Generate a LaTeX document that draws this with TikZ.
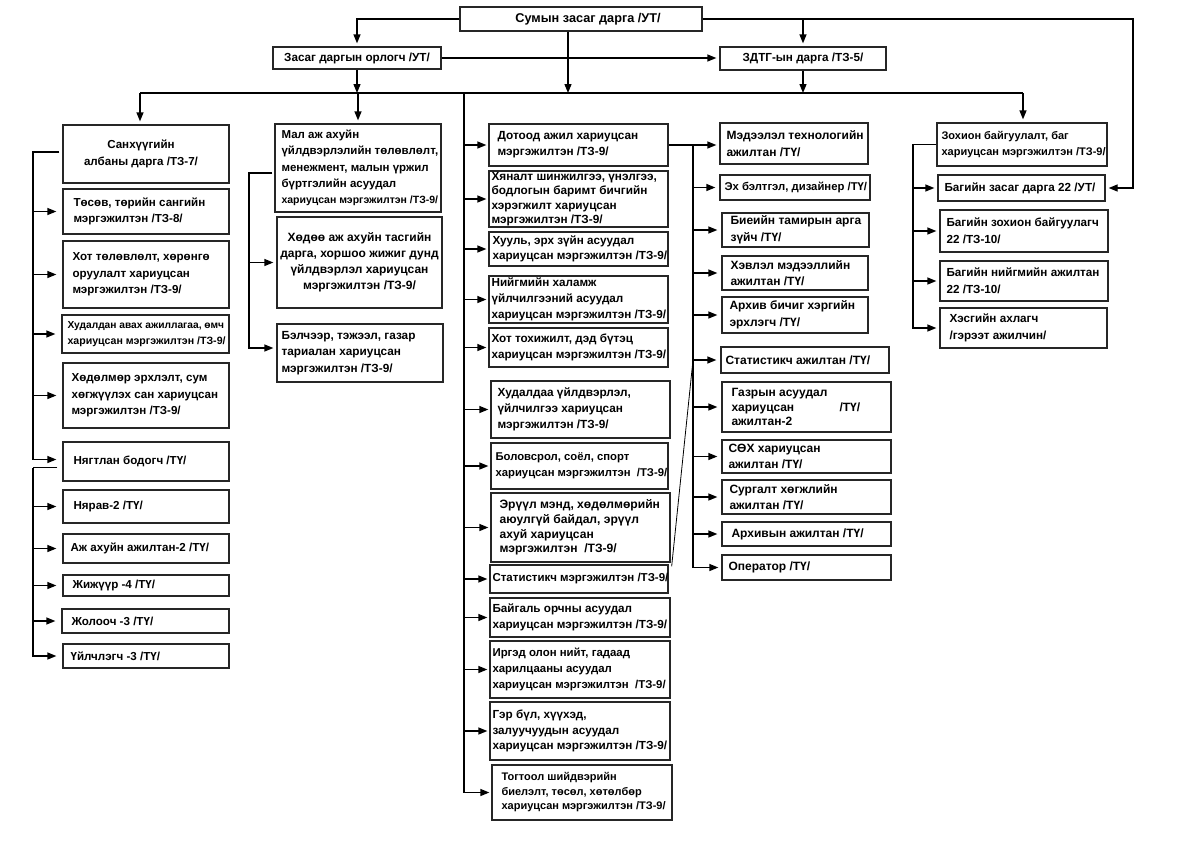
\documentclass[tikz,border=0pt]{standalone}
\usepackage{fontspec}
\setmainfont{Liberation Sans}
\usetikzlibrary{arrows.meta}
\newcommand\fs[2]{\bfseries\fontsize{#1}{#2}\selectfont}
% left-aligned box: name x1 y1 x2 y2 xs opts text
\newcommand\bx[8]{%
  \pgfmathsetmacro\bxw{#4-#2}%
  \pgfmathsetmacro\bxh{#5-#3}%
  \node[box,minimum width=\bxw pt,minimum height=\bxh pt] (#1) at ({(#2+#4)/2},{-(#3+#5)/2}) {};
  \node[txt,anchor=west,#7] (#1t) at ([xshift=#6pt]#1.west) {#8};}
% centred box: name x1 y1 x2 y2 opts text
\newcommand\bxc[7]{%
  \pgfmathsetmacro\bxw{#4-#2}%
  \pgfmathsetmacro\bxh{#5-#3}%
  \node[box,minimum width=\bxw pt,minimum height=\bxh pt] (#1) at ({(#2+#4)/2},{-(#3+#5)/2}) {};
  \node[txt,align=center,#6] (#1t) at (#1.center) {#7};}
\tikzset{
  box/.style={draw=black!85, line width=1.3pt, fill=white, inner sep=0pt},
  txt/.style={inner sep=0pt, align=left, font=\fs{11.7}{16}},
  ca/.style={font=\fs{11.6}{16.3}},
  cb/.style={font=\fs{11.5}{16.3}},
  cc/.style={font=\fs{11.7}{15.7}},
  cd/.style={font=\fs{12}{16.5}},
  ce/.style={font=\fs{11.7}{16.5}},
  ln/.style={line width=1.3pt},
  arr/.style={line width=1.3pt, -{Triangle[length=9pt,width=7pt]}, shorten >=3pt},
}
\begin{document}
\begin{tikzpicture}[x=1pt,y=1pt]
\useasboundingbox (0,0) rectangle (1183,-847);
% top
\bxc{S}{460}{7}{702}{31}{xshift=7pt,font=\fs{12.7}{15}}{Сумын засаг дарга /УТ/}
\bxc{O}{273}{47}{441}{69}{font=\fs{11.7}{14}}{Засаг даргын орлогч /УТ/}
\bxc{Z}{720}{47}{886}{70}{font=\fs{11.7}{14}}{ЗДТГ-ын дарга /ТЗ-5/}
% column 1
\bxc{A1}{63}{125}{229}{183}{xshift=-5pt,ca}{Санхүүгийн\\албаны дарга /ТЗ-7/}
\bx{A2}{63}{189}{229}{234}{11}{ca}{Төсөв, төрийн сангийн\\мэргэжилтэн /ТЗ-8/}
\bx{A3}{63}{241}{229}{308}{10}{ca}{Хот төлөвлөлт, хөрөнгө\\оруулалт хариуцсан\\мэргэжилтэн /ТЗ-9/}
\bx{A4}{62}{315}{229}{353}{6}{font=\fs{10.2}{15.5}}{Худалдан авах ажиллагаа, өмч\\{\fontsize{10.6}{15.5}\selectfont хариуцсан мэргэжилтэн /ТЗ-9/}}
\bx{A5}{63}{363}{229}{428}{9}{ca}{Хөдөлмөр эрхлэлт, сум\\хөгжүүлэх сан хариуцсан\\мэргэжилтэн /ТЗ-9/}
\bx{A6}{63}{442}{229}{481}{11}{ca}{Нягтлан бодогч /ТҮ/}
\bx{A7}{63}{490}{229}{523}{11}{ca}{Нярав-2 /ТҮ/}
\bx{A8}{63}{534}{229}{563}{8}{ca}{Аж ахуйн ажилтан-2 /ТҮ/}
\bx{A9}{63}{575}{229}{596}{10}{ca}{Жижүүр -4 /ТҮ/}
\bx{A10}{62}{609}{229}{633}{10}{ca}{Жолооч -3 /ТҮ/}
\bx{A11}{63}{644}{229}{668}{8}{ca}{Үйлчлэгч -3 /ТҮ/}
% column 2
\bx{M1}{275}{124}{441}{212}{7}{cb}{Мал аж ахуйн\\үйлдвэрлэлийн төлөвлөлт,\\менежмент, малын үржил\\бүртгэлийн асуудал\\{\fontsize{10.5}{16}\selectfont хариуцсан мэргэжилтэн /ТЗ-9/}}
\bxc{M2}{277}{217}{442}{308}{font=\fs{12}{16}}{Хөдөө аж ахуйн тасгийн\\дарга, хоршоо жижиг дунд\\үйлдвэрлэл хариуцсан\\мэргэжилтэн /ТЗ-9/}
\bx{M3}{277}{324}{443}{382}{5}{font=\fs{11.8}{16.5}}{Бэлчээр, тэжээл, газар\\тариалан хариуцсан\\мэргэжилтэн /ТЗ-9/}
% column 3
\bx{C1}{489}{124}{668}{166}{9}{font=\fs{11.8}{15.7}}{Дотоод ажил хариуцсан\\мэргэжилтэн /ТЗ-9/}
\node[box,minimum width=179pt,minimum height=56pt] (C2) at (578.5,-199) {};
\begin{scope}
\clip (C2.south west) rectangle (C2.north east);
\node[txt,anchor=west,font=\fs{11.8}{14.5}] (C2t) at ([xshift=3pt]C2.west) {Хяналт шинжилгээ, үнэлгээ,\\бодлогын баримт бичгийн\\хэрэгжилт хариуцсан\\мэргэжилтэн /ТЗ-9/};
\end{scope}
\bx{C3}{489}{232}{668}{266}{4}{cc}{Хууль, эрх зүйн асуудал\\хариуцсан мэргэжилтэн /ТЗ-9/}
\bx{C4}{489}{276}{668}{323}{3}{cc}{Нийгмийн халамж\\үйлчилгээний асуудал\\хариуцсан мэргэжилтэн /ТЗ-9/}
\bx{C5}{489}{328}{668}{367}{3}{cc}{Хот тохижилт, дэд бүтэц\\хариуцсан мэргэжилтэн /ТЗ-9/}
\bx{C6}{491}{381}{670}{438}{7}{font=\fs{11.8}{16}}{Худалдаа үйлдвэрлэл,\\үйлчилгээ хариуцсан\\мэргэжилтэн  /ТЗ-9/}
\bx{C7}{491}{443}{668}{489}{5}{font=\fs{11.3}{15.7}}{Боловсрол, соёл, спорт\\хариуцсан мэргэжилтэн~~/ТЗ-9/}
\bx{C8}{491}{493}{670}{562}{9}{font=\fs{12.1}{14.8}}{Эрүүл мэнд, хөдөлмөрийн\\аюулгүй байдал, эрүүл\\ахуй хариуцсан\\мэргэжилтэн~~/ТЗ-9/}
\bx{C9}{490}{565}{668}{593}{3}{font=\fs{11.5}{15}}{Статистикч мэргэжилтэн /ТЗ-9/}
\bx{C10}{490}{598}{670}{637}{3}{cc}{Байгаль орчны асуудал\\хариуцсан мэргэжилтэн /ТЗ-9/}
\bx{C11}{490}{641}{670}{698}{3}{font=\fs{11.4}{15.7}}{Иргэд олон нийт, гадаад\\харилцааны асуудал\\хариуцсан мэргэжилтэн~~/ТЗ-9/}
\bx{C12}{490}{702}{670}{760}{3}{cc}{Гэр бүл, хүүхэд,\\залуучуудын асуудал\\хариуцсан мэргэжилтэн /ТЗ-9/}
\bx{C13}{492}{765}{672}{820}{10}{font=\fs{11}{14.5}}{Тогтоол шийдвэрийн\\биелэлт, төсөл, хөтөлбөр\\хариуцсан мэргэжилтэн /ТЗ-9/}
% column 4
\bx{D1}{720}{123}{868}{164}{7}{cd}{Мэдээлэл технологийн\\ажилтан /ТҮ/}
\bx{D2}{720}{175}{870}{200}{5}{font=\fs{11.3}{15}}{Эх бэлтгэл, дизайнер /ТҮ/}
\bx{D3}{722}{213}{869}{247}{9}{cd}{Биеийн тамирын арга\\зүйч /ТҮ/}
\bx{D4}{722}{256}{868}{290}{9}{cd}{Хэвлэл мэдээллийн\\ажилтан /ТҮ/}
\bx{D5}{722}{297}{868}{333}{8}{cd}{Архив бичиг хэргийн\\эрхлэгч /ТҮ/}
\bx{D6}{721}{347}{889}{373}{5}{cd}{Статистикч ажилтан /ТҮ/}
\bx{D7}{722}{382}{891}{432}{10}{font=\fs{12}{14.5}}{Газрын асуудал\\\makebox[108pt][l]{хариуцсан}/ТҮ/\\ажилтан-2}
\bx{D8}{722}{440}{891}{473}{7}{cd}{СӨХ хариуцсан\\ажилтан /ТҮ/}
\bx{D9}{722}{480}{891}{514}{8}{cd}{Сургалт хөгжлийн\\ажилтан /ТҮ/}
\bx{D10}{722}{522}{891}{546}{10}{cd}{Архивын ажилтан /ТҮ/}
\bx{D11}{722}{555}{891}{580}{7}{cd}{Оператор /ТҮ/}
% column 5
\bx{E1}{937}{123}{1107}{166}{5}{font=\fs{11}{16.5}}{Зохион байгуулалт, баг\\хариуцсан мэргэжилтэн /ТЗ-9/}
\bx{E2}{938}{175}{1105}{201}{7}{ce}{Багийн засаг дарга 22 /УТ/}
\bx{E3}{940}{210}{1108}{252}{7}{ce}{Багийн зохион байгуулагч\\22 /ТЗ-10/}
\bx{E4}{940}{261}{1108}{301}{7}{ce}{Багийн нийгмийн ажилтан\\22 /ТЗ-10/}
\bx{E5}{940}{308}{1107}{348}{10}{ce}{Хэсгийн ахлагч\\/гэрээт ажилчин/}
% coordinates
\coordinate (b1) at (33,0);
\coordinate (b2) at (249,0);
\coordinate (b3) at (464,0);
\coordinate (b4) at (693,0);
\coordinate (b5) at (913,0);
\coordinate (busL) at (140,-93);
\coordinate (busR) at (1023,-93);
\coordinate (rt) at (1133,-19);
% top connectors
\draw[arr] (S.west) -| (O.north);
\draw[arr] (S.east) -- (rt) |- (E2.east);
\draw[arr] (Z.north |- S.east) -- (Z.north);
\draw[arr] (O.east) -- (O.east -| Z.west);
\draw[arr,shorten >=0pt] ([xshift=-13pt]S.south) -- ([xshift=-13pt]S.south |- busL);
\draw[arr,shorten >=0pt] (O.south) -- (O.south |- busL);
\draw[arr,shorten >=0pt] (Z.south) -- (Z.south |- busL);
\draw[ln] (busL) -- (busR);
\draw[arr] (busL) -- (busL |- A1.north);
\draw[arr] (M1.north |- busL) -- (M1.north);
\draw[arr] (busR) -- (busR |- E1.north);
% column 1
\draw[arr,shorten >=6pt] ([xshift=-3pt,yshift=2pt]A1.west) -- ([yshift=2pt]A1.west -| b1) |- ([yshift=2pt]A6.west);
\foreach \n in {A2,A3,A4,A5} \draw[arr,shorten >=6pt] (b1 |- \n.west) -- (\n.west);
\draw[ln] ([xshift=-5pt,yshift=-6pt]A6.west) -- ([yshift=-6pt]A6.west -| b1);
\draw[arr,shorten >=6pt] ([yshift=-6pt]A6.west -| b1) |- (A11.west);
\foreach \n in {A7,A8,A9,A10} \draw[arr,shorten >=6pt] (b1 |- \n.west) -- (\n.west);
% column 2
\draw[arr] ([xshift=-2pt,yshift=-5pt]M1.west) -- ([yshift=-5pt]M1.west -| b2) |- ([yshift=5pt]M3.west);
\draw[arr] (b2 |- M2.west) -- (M2.west);
% column 3
\draw[ln] (b3 |- busL) -- (b3 |- C13.west);
\foreach \n in {C1,C2,C3,C4,C5,C6,C7,C8,C9,C10,C11,C12,C13} \draw[arr,shorten >=2pt] (b3 |- \n.west) -- (\n.west);
% column 4
\draw[arr] (C1.east) -- (C1.east -| D1.west);
\draw[arr] (C1.east -| b4) |- (D11.west);
\foreach \n in {D2,D3,D4,D5,D6,D7,D8,D9,D10} \draw[arr,shorten >=4pt] (b4 |- \n.west) -- (\n.west);
\draw[line width=0.8pt] ([xshift=3pt,yshift=-2pt]C9.north east) -- (b4 |- D6.west);
% column 5
\draw[arr] (E1.west) -- (E1.west -| b5) |- (E5.west);
\foreach \n in {E2,E3,E4} \draw[arr] (b5 |- \n.west) -- (\n.west);
\end{tikzpicture}
\end{document}
